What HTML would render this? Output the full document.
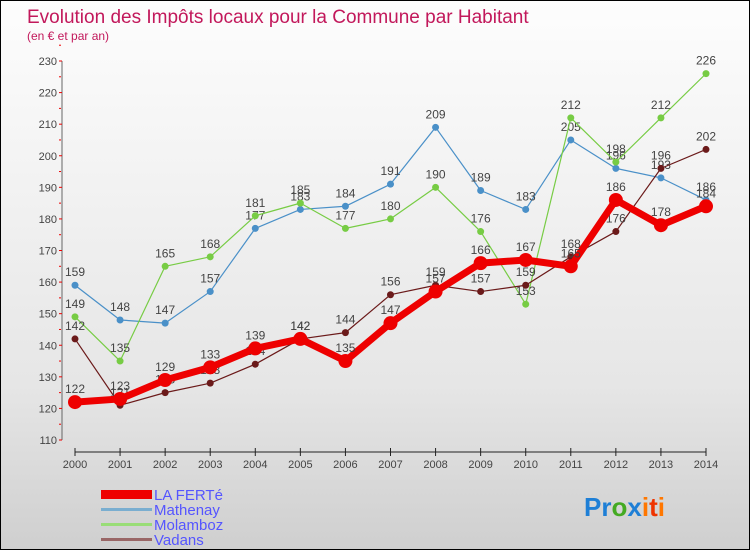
<!DOCTYPE html>
<html><head><meta charset="utf-8"><style>
body{margin:0;}
#c{width:748px;height:548px;border:1px solid #000;position:relative;background:linear-gradient(#fdfdfd,#e6e6e6 70%,#cfcfcf);font-family:"Liberation Sans",sans-serif;overflow:hidden}
</style></head><body>
<div id="c">
<svg width="748" height="548" id="svg">
<text x="26" y="22" font-size="19" fill="#c2185b">Evolution des Impôts locaux pour la Commune par Habitant</text>
<text x="26" y="39" font-size="12" fill="#c2185b">(en € et par an)</text>
<g id="axes"></g><g id="series"></g>
<g>
<rect x="100" y="489" width="51" height="9" fill="#ee0000"/>
<text x="153" y="499" font-size="15" fill="#5555ff">LA FERTé</text>
<rect x="100" y="507" width="51" height="3" fill="#7aaed0"/>
<text x="153" y="514" font-size="15" fill="#5555ff">Mathenay</text>
<rect x="100" y="522" width="51" height="3" fill="#99dd77"/>
<text x="153" y="529" font-size="15" fill="#5555ff">Molamboz</text>
<rect x="100" y="537" width="51" height="3" fill="#996666"/>
<text x="153" y="544" font-size="15" fill="#5555ff">Vadans</text>
</g>
<text x="583" y="515" font-size="26" font-weight="bold"><tspan fill="#1e7fd6">Pr</tspan><tspan fill="#44aa22">o</tspan><tspan fill="#1e7fd6">x</tspan><tspan fill="#ff7700">i</tspan><tspan fill="#ee3300">t</tspan><tspan fill="#ff7700">i</tspan></text>
</svg>
</div>
<script>
const years=[2000,2001,2002,2003,2004,2005,2006,2007,2008,2009,2010,2011,2012,2013,2014];
const yTicks=[110,120,130,140,150,160,170,180,190,200,210,220,230];
const laFerte=[122,123,129,133,139,142,135,147,157,166,167,165,186,178,184];
const mathenay=[159,148,147,157,177,183,184,191,209,189,183,205,196,193,186];
const molamboz=[149,135,165,168,181,185,177,180,190,176,153,212,198,212,226];
const vadans=[142,121,125,128,134,142,144,156,159,157,159,168,176,196,202];
const NS="http://www.w3.org/2000/svg";
const X=i=>74+i*(631/14);
const Y=v=>439-(v-110)*(379/120);
function mk(t,a,p){const e=document.createElementNS(NS,t);for(const k in a)e.setAttribute(k,a[k]);p.appendChild(e);return e;}
const ax=document.getElementById('axes');
let l=mk('line',{x1:61,y1:Y(230),x2:61,y2:Y(110),stroke:'#666'},ax);

yTicks.forEach(v=>{
 const t=mk('text',{x:56,y:Y(v)+4,'font-size':11,fill:'#444','text-anchor':'end'},ax);t.textContent=v;
 
 mk('line',{x1:58,y1:Y(v),x2:61,y2:Y(v),stroke:'#e00'},ax);
 mk('line',{x1:58,y1:Y(v+5),x2:60,y2:Y(v+5),stroke:'#e00'},ax);
});
l=mk('line',{x1:74,y1:451,x2:705,y2:451,stroke:'#222'},ax);

years.forEach((y,i)=>{
 mk('line',{x1:X(i),y1:447,x2:X(i),y2:455,stroke:'#222'},ax);
 const t=mk('text',{x:X(i),y:467,'font-size':11,fill:'#444','text-anchor':'middle'},ax);t.textContent=y;
 
});
const sg=document.getElementById('series');
function series(data,color,w,r,name){
 const g=mk('g',{},sg);
 
 const p=mk('polyline',{points:data.map((v,i)=>X(i)+','+Y(v)).join(' '),fill:'none',stroke:color,'stroke-width':w,'stroke-linejoin':'round'},g);
 
 data.forEach((v,i)=>{
  const c=mk('circle',{cx:X(i),cy:Y(v),r:r,fill:color},g);
  
  const t=mk('text',{x:X(i),y:Y(v)-9,'font-size':12,fill:'#444','text-anchor':'middle'},g);t.textContent=v;
  
 });
}
series(mathenay,'#4a90c8',1.2,3.5,'mathenay');
series(molamboz,'#77cc44',1.2,3.5,'molamboz');
series(vadans,'#6b1a1a',1.2,3.5,'vadans');
series(laFerte,'#ee0000',7,7,'la-ferte');
</script>
</body></html>
